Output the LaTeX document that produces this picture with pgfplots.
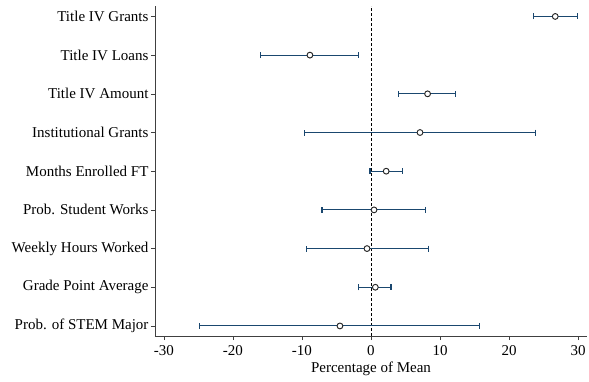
\documentclass[border=0pt]{standalone}
\usepackage{pgfplots}
\pgfplotsset{compat=1.18}
\usepackage{pgfplotstable}
\usepackage{fontspec}
\setmainfont{Liberation Serif}
\definecolor{stnavy}{HTML}{1A476F}
\pgfplotstableread{
y   m      ep    em
9   26.7   3.2   3.2
8  -8.85   7.05  7.15
7   8.2    4.1   4.2
6   7.1    16.8  16.7
5   2.2    2.35  2.35
4   0.44   7.46  7.54
3  -0.58   8.88  8.82
2   0.63   2.27  2.47
1  -4.5    20.2  20.3
}\coef
\begin{document}
\begin{tikzpicture}
\begin{axis}[
  scale only axis,
  width=432pt, height=330pt,
  xmin=-31.3, xmax=31.3,
  ymin=0.74, ymax=9.27,
  axis lines*=left,
  axis line style={black!75, line width=0.6pt},
  xtick={-30,-20,...,30},
  ytick={1,...,9},
  yticklabels={Prob. of STEM Major, Grade Point Average, Weekly Hours Worked, Prob. Student Works, Months Enrolled FT, Institutional Grants, Title IV Amount, Title IV Loans, Title IV Grants},
  tick align=outside,
  major tick length=4pt,
  tick style={black!75, line width=0.6pt},
  xtick pos=bottom, ytick pos=left,
  ticklabel style={font=\fontsize{15}{17}\selectfont},
  xticklabel style={yshift=-2pt},
  yticklabel style={xshift=1pt},
  /pgf/number format/assume math mode=true,
  xlabel={Percentage of Mean},
  xlabel style={font=\fontsize{15}{17}\selectfont, yshift=1pt},
  clip=false,
]
\addplot[black, dashed, dash pattern=on 3pt off 2pt, line width=0.8pt] coordinates {(0,0.74) (0,9.27)};
\addplot[stnavy, only marks, mark=none,
  error bars/.cd, x dir=both, x explicit,
  error bar style={stnavy, line width=1.1pt},
  error mark options={stnavy, mark size=3pt, line width=1.1pt, rotate=90}]
  table[x=m, y=y, x error plus=ep, x error minus=em] {\coef};
\addplot[only marks, mark=*, mark size=2.9pt, mark options={draw=black!85, fill=white, line width=0.95pt}]
  table[x=m, y=y] {\coef};
\end{axis}
\path ([xshift=-155pt,yshift=6pt]current axis.north west) ([xshift=2pt,yshift=-45pt]current axis.south east);
\end{tikzpicture}
\end{document}
